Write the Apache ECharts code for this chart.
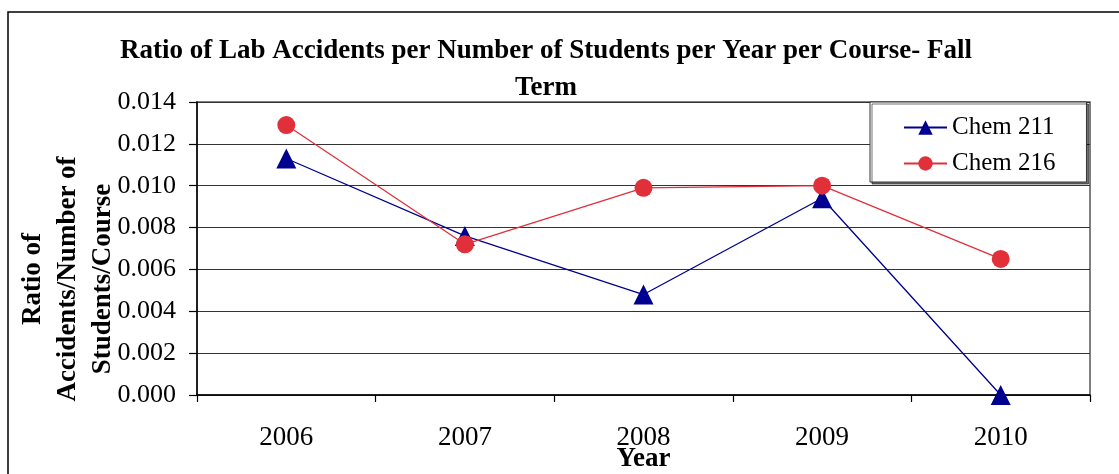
<!DOCTYPE html>
<html>
<head>
<meta charset="utf-8">
<title>Ratio of Lab Accidents per Number of Students</title>
<script src="https://cdn.jsdelivr.net/npm/echarts@6/dist/echarts.min.js"></script>
<style>
  html, body { margin: 0; padding: 0; background: #fff; }
  #chart { width: 1119px; height: 474px; }
</style>
</head>
<body>
<div id="chart"></div>
<script>
// Fall term accident ratios per course
const years = ['2006', '2007', '2008', '2009', '2010'];
const chem211 = [0.0113, 0.0076, 0.0048, 0.0094, 0.0000];
const chem216 = [0.0129, 0.0072, 0.0099, 0.0100, 0.0065];
const yTicks = { min: 0, max: 0.014, step: 0.002 };

const serif = "'Liberation Serif', 'Times New Roman', serif";

const chart = echarts.init(document.getElementById('chart'));

chart.setOption({
  animation: false,
  backgroundColor: '#fff',
  title: {
    text: 'Ratio of Lab Accidents per Number of Students per Year per Course- Fall\nTerm',
    left: 541,
    top: 28,
    textAlign: 'center',
    textStyle: {
      fontFamily: serif,
      fontWeight: 'bold',
      fontSize: 27,
      lineHeight: 37,
      color: '#000'
    }
  },
  graphic: [
    {
      type: 'rect',
      shape: { x: 8, y: 12, width: 1140, height: 520 },
      style: { fill: 'none', stroke: '#000', lineWidth: 1.5 },
      z: -1
    },
    {
      type: 'text',
      x: 68,
      y: 279,
      rotation: Math.PI / 2,
      style: {
        text: 'Ratio of\nAccidents/Number of\nStudents/Course',
        fontFamily: serif,
        fontWeight: 'bold',
        fontSize: 27,
        lineHeight: 35,
        align: 'center',
        verticalAlign: 'middle',
        fill: '#000'
      }
    }
  ],
  legend: {
    orient: 'vertical',
    left: 870,
    top: 102,
    padding: [12, 31, 5, 33],
    itemGap: 9,
    itemWidth: 43,
    itemHeight: 18,
    backgroundColor: '#fff',
    borderColor: '#333',
    borderWidth: 1,
    shadowColor: 'rgba(0,0,0,0.55)',
    shadowOffsetX: 2,
    shadowOffsetY: 2,
    textStyle: {
      fontFamily: serif,
      fontSize: 25,
      lineHeight: 27,
      color: '#000'
    },
    data: ['Chem 211', 'Chem 216']
  },
  grid: {
    left: 197,
    top: 102,
    right: 29,
    bottom: 79,
    outerBoundsMode: 'none',
    show: true,
    borderColor: '#555',
    borderWidth: 1.5,
    containLabel: false
  },
  xAxis: {
    type: 'category',
    data: years,
    boundaryGap: true,
    name: 'Year',
    nameLocation: 'middle',
    nameGap: 51,
    nameMoveOverlap: false,
    nameTextStyle: {
      fontFamily: serif,
      fontWeight: 'bold',
      fontSize: 27,
      color: '#000'
    },
    axisLine: { lineStyle: { color: '#000', width: 1.5 } },
    axisTick: { show: true, inside: false, length: 7, interval: 0, lineStyle: { color: '#000', width: 1.2 } },
    axisLabel: {
      margin: 29,
      fontFamily: serif,
      fontSize: 27,
      color: '#000'
    }
  },
  yAxis: {
    type: 'value',
    min: yTicks.min,
    max: yTicks.max,
    interval: yTicks.step,
    axisLine: { show: true, lineStyle: { color: '#000', width: 1.5 } },
    axisTick: { show: true, length: 8, lineStyle: { color: '#000', width: 1.2 } },
    axisLabel: {
      margin: 21,
      fontFamily: serif,
      fontSize: 26,
      color: '#000',
      formatter: v => v.toFixed(3)
    },
    splitLine: { show: true, lineStyle: { color: '#333', width: 1.2 } }
  },
  series: [
    {
      name: 'Chem 211',
      type: 'line',
      data: chem211,
      symbol: 'triangle',
      symbolSize: 20,
      color: '#000090',
      lineStyle: { color: '#000090', width: 1.3 },
      itemStyle: { color: '#000090' },
      z: 2
    },
    {
      name: 'Chem 216',
      type: 'line',
      data: chem216,
      symbol: 'circle',
      symbolSize: 18,
      color: '#E1303A',
      lineStyle: { color: '#E1303A', width: 1.3 },
      itemStyle: { color: '#E1303A' },
      z: 3
    }
  ]
});
</script>
</body>
</html>
